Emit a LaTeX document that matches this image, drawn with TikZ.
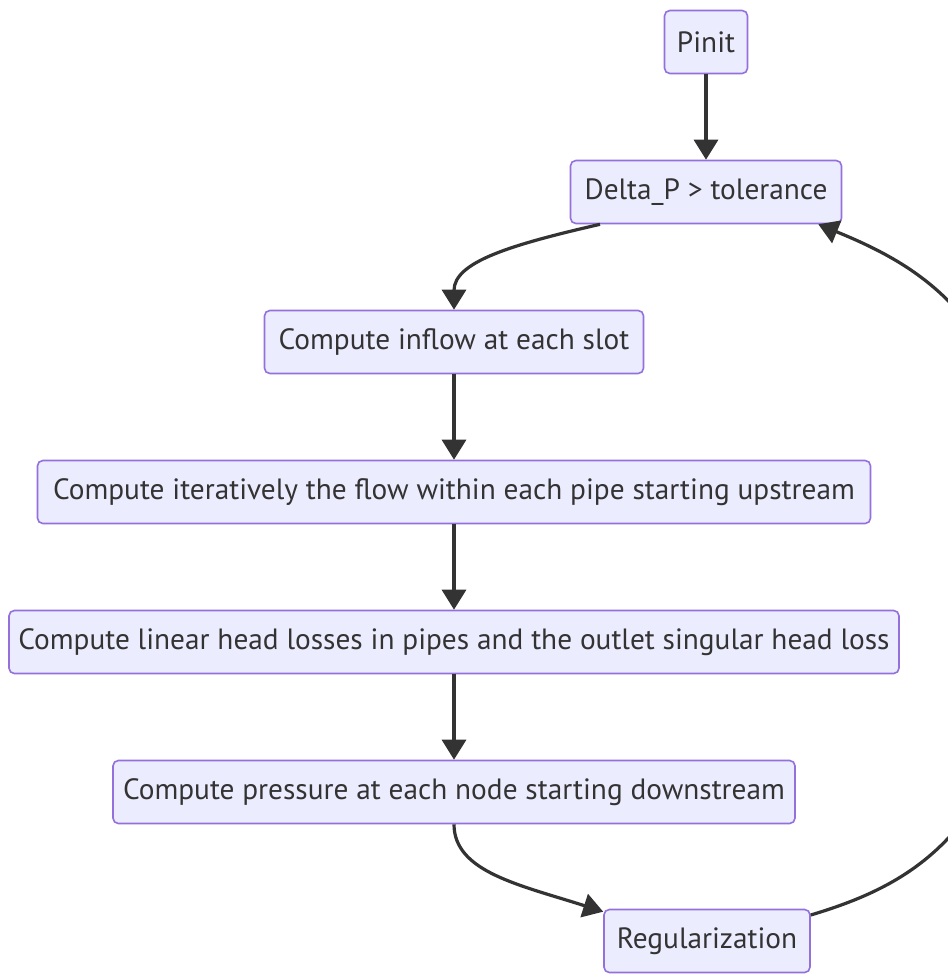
\documentclass[tikz,border=0pt]{standalone}
\usepackage{fontspec}
\setmainfont{PT Sans}
\usetikzlibrary{arrows.meta,calc}
\definecolor{boxfill}{HTML}{ECECFF}
\definecolor{boxdraw}{HTML}{9370DB}
\definecolor{txtcol}{HTML}{333333}
\definecolor{edgecol}{HTML}{333333}
\begin{document}
\begin{tikzpicture}[x=0.75pt,y=-0.75pt,
  stepbox/.style={draw=boxdraw,fill=boxfill,line width=1.2pt,rounded corners=4pt,
    minimum height=47.25pt,inner sep=0pt,text=txtcol,
    font=\fontsize{22pt}{26pt}\selectfont},
  flow/.style={draw=edgecol,line width=2.4pt,-{Triangle[length=15pt,width=18pt]}}]
\useasboundingbox[fill=white] (0,0) rectangle (948,974);
\node[stepbox,minimum width=62.25pt] (pinit) at (706,42) {Pinit};
\node[stepbox,minimum width=203.25pt] (delta) at (706,192) {Delta\_P > tolerance};
\node[stepbox,minimum width=284.25pt] (inflow) at (454,342) {Compute inflow at each slot};
\node[stepbox,minimum width=624.75pt] (iter) at (454,492) {Compute iteratively the flow within each pipe starting upstream};
\node[stepbox,minimum width=667.5pt] (linear) at (454,642) {Compute linear head losses in pipes and the outlet singular head loss};
\node[stepbox,minimum width=511.5pt] (press) at (454,792) {Compute pressure at each node starting downstream};
\node[stepbox,minimum width=154.5pt] (reg) at (707,941) {Regularization};
\draw[flow] (pinit) -- (delta);
\draw[flow] ($(delta.south)+(-106,0)$) .. controls (510,245) and (454,262) .. (inflow.north);
\draw[flow] (inflow) -- (iter);
\draw[flow] (iter) -- (linear);
\draw[flow] (linear) -- (press);
\draw[flow] (press.south) .. controls (454,872) and (520,885) .. ($(reg.north west)+(0,3)$);
\begin{scope}
\clip (0,0) rectangle (948,974);
\draw[flow] ($(reg.east)+(0,-26)$) .. controls (910,885) and (1030,830) .. (1030,560)
   .. controls (1030,330) and (930,270) .. ($(delta.south east)+(-24,0)$);
\end{scope}
\end{tikzpicture}
\end{document}
